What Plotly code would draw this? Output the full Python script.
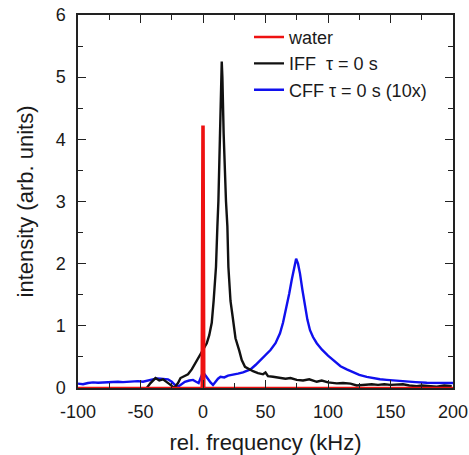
import plotly.graph_objects as go

# ---- data ----
water_x = [-100, -1.0, -0.4, 0.4, 1.0, 200]
water_y = [0, 0, 4.2, 4.2, 0, 0]

iff_x = [-45, -42, -38, -35, -32, -29, -26, -23, -20, -18, -15, -12, -9, -6, -3, 0,
         3, 5, 7, 8.5, 10.4, 11.5, 12.3, 13.5, 14.5, 15, 15.5, 16.5, 18.4, 19.5, 20.3,
         22, 23.7, 26, 29, 31, 33.6, 37, 40, 44, 48, 50, 52, 56, 61, 66, 70, 75, 80,
         85, 91, 95, 100, 107, 112, 118, 123, 128, 135, 140, 145, 150, 155, 160, 165,
         171, 175, 180, 187, 193, 199]
iff_y = [0, 0.08, 0.16, 0.12, 0.14, 0.10, 0.05, 0.0, 0.08, 0.16, 0.19, 0.22, 0.30, 0.40,
         0.50, 0.60, 0.72, 0.85, 1.05, 1.4, 1.95, 2.6, 3.0, 4.0, 4.9, 5.25, 5.0, 4.1, 3.0,
         2.6, 1.95, 1.4, 1.15, 0.8, 0.6, 0.45, 0.34, 0.3, 0.27, 0.24, 0.22, 0.25, 0.19,
         0.18, 0.16, 0.15, 0.16, 0.13, 0.12, 0.14, 0.10, 0.12, 0.09, 0.075, 0.08, 0.07,
         0.04, 0.05, 0.06, 0.05, 0.06, 0.05, 0.05, 0.06, 0.04, 0.03, 0.04, 0.03, 0.02,
         0.04, 0.03]

cff_x = [-100, -96, -92, -88, -84, -80, -76, -72, -68, -64, -60, -56, -52, -48, -44, -40,
         -37, -34, -31, -28, -25, -22.5, -20, -17, -14.5, -11, -8, -5.5, -3.5, -1.5, 0,
         2, 4, 6, 8, 10, 12, 14, 17, 20, 24, 28, 32, 35, 38, 42, 46, 50, 54, 58, 61.6,
         64, 67, 69, 71, 73, 74.5, 76, 77.6, 79.5, 81.6, 83.5, 85.6, 88, 91, 95, 100,
         105, 110, 115, 120, 125, 131, 136, 141.6, 147, 152, 158, 163, 170, 179, 188,
         197.6, 200]
cff_y = [0.07, 0.06, 0.08, 0.09, 0.085, 0.09, 0.095, 0.09, 0.10, 0.095, 0.10, 0.10, 0.11,
         0.10, 0.12, 0.13, 0.155, 0.15, 0.14, 0.14, 0.10, 0.05, 0.02, 0.07, 0.10, 0.12,
         0.13, 0.10, 0.08, 0.18, 0.26, 0.20, 0.14, 0.09, 0.05, 0.10, 0.15, 0.18, 0.17,
         0.20, 0.21, 0.23, 0.25, 0.27, 0.30, 0.37, 0.45, 0.52, 0.61, 0.72, 0.88, 1.05,
         1.31, 1.52, 1.74, 1.95, 2.08, 2.0, 1.84, 1.58, 1.31, 1.10, 0.93, 0.82, 0.72,
         0.62, 0.52, 0.43, 0.35, 0.30, 0.25, 0.21, 0.18, 0.16, 0.14, 0.13, 0.12, 0.11,
         0.10, 0.095, 0.085, 0.08, 0.075, 0.08]

x_ticks = [-100, -50, 0, 50, 100, 150, 200]
x_tick_labels = ["-100", "-50", "0", "50", "100", "150", "200"]
y_ticks = [0, 1, 2, 3, 4, 5, 6]
y_tick_labels = ["0", "1", "2", "3", "4", "5", "6"]

FONT = "Liberation Sans, Arial, sans-serif"
TXT = "#1a1a1a"

fig = go.Figure()
fig.add_trace(go.Scatter(x=cff_x, y=cff_y, mode="lines", name="CFF \u03c4 = 0 s (10x)",
                         line=dict(color="#1010ee", width=2.4)))
fig.add_trace(go.Scatter(x=iff_x, y=iff_y, mode="lines", name="IFF\u00a0 \u03c4 = 0 s",
                         line=dict(color="#111111", width=2.4)))
fig.add_trace(go.Scatter(x=water_x, y=water_y, mode="lines", name="water",
                         line=dict(color="#ee1111", width=2.6)))

axis_common = dict(
    showgrid=False, zeroline=False, showline=True, linecolor="#222", linewidth=1.5,
    mirror="allticks", ticks="inside", ticklen=8, tickwidth=1.3, tickcolor="#222",
    tickfont=dict(family=FONT, size=18, color=TXT), automargin=False,
)

fig.update_layout(
    width=469, height=455,
    margin=dict(l=78, r=16, t=15, b=67),
    paper_bgcolor="white", plot_bgcolor="white",
    font=dict(family=FONT, color=TXT),
    showlegend=True,
    legend=dict(x=0.456, y=0.99, xanchor="left", yanchor="top",
                bgcolor="rgba(0,0,0,0)", traceorder="reversed",
                font=dict(family=FONT, size=18, color=TXT),
                tracegroupgap=0, itemwidth=30),
    xaxis=dict(range=[-100, 200], tickvals=x_ticks, ticktext=x_tick_labels,
               ticklabelstandoff=7,
               minor=dict(dtick=25, ticks="inside", ticklen=5, tickcolor="#222"),
               title=dict(text="rel. frequency (kHz)", standoff=14,
                          font=dict(family=FONT, size=22, color=TXT)),
               **axis_common),
    yaxis=dict(range=[0, 6], tickvals=y_ticks, ticktext=y_tick_labels,
               ticklabelstandoff=7,
               minor=dict(dtick=0.5, ticks="inside", ticklen=5, tickcolor="#222"),
               title=dict(text="intensity (arb. units)", standoff=16,
                          font=dict(family=FONT, size=22, color=TXT)),
               **axis_common),
)

fig.write_html("out.html")
